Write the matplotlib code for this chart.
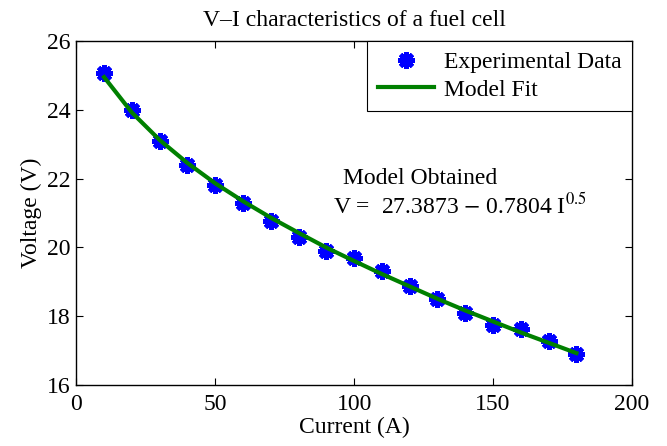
import matplotlib.pyplot as plt

plt.rcParams['font.family'] = ['Liberation Serif', 'DejaVu Serif']
plt.rcParams['mathtext.fontset'] = 'stix'

# readings
current = [10, 20, 30, 40, 50, 60, 70, 80, 90, 100, 110, 120, 130, 140, 150, 160, 170, 180]
voltage_meas = [25.08, 24.0, 23.1, 22.38, 21.82, 21.28, 20.75, 20.3, 19.9, 19.68, 19.32,
                18.88, 18.5, 18.08, 17.74, 17.62, 17.28, 16.9]
voltage_fit = [24.95, 23.92, 23.12, 22.45, 21.86, 21.34, 20.86, 20.42, 19.99, 19.6, 19.22,
               18.86, 18.5, 18.16, 17.84, 17.52, 17.22, 16.92]

fs = 17

fig = plt.figure(figsize=(6.67, 4.46), dpi=100)
ax = fig.add_axes([0.1144, 0.1374, 0.8331, 0.7706])

ax.plot(current, voltage_meas, linestyle='none', marker=(8, 2, 0), markersize=12,
        markeredgewidth=3.2, color='blue', label='Experimental Data', zorder=2)
ax.plot(current, voltage_fit, color=(0, 0.5, 0), linewidth=3, label='Model Fit', zorder=3)

ax.set_xlim(0, 200)
ax.set_ylim(16, 26)
ax.set_xticks([0, 50, 100, 150, 200])
ax.set_yticks([16, 18, 20, 22, 24, 26])
ax.tick_params(direction='in', top=True, right=True, labelsize=fs, length=5)
ax.tick_params(axis='x', pad=7)
ax.tick_params(axis='y', pad=4)
for s in ax.spines.values():
    s.set_linewidth(1.0)

ax.set_title('V\u2013I characteristics of a fuel cell', fontsize=fs, pad=11)
ax.set_xlabel('Current (A)', fontsize=fs, labelpad=1)
ax.set_ylabel('Voltage (V)', fontsize=fs, labelpad=4)

ax.text(96, 22.0, 'Model Obtained', fontsize=fs, va='center', ha='left')
ax.text(92.5, 21.2, r'V =  27.3873 $-$ 0.7804 I$^{0.5}$', fontsize=fs, va='center', ha='left')

leg = ax.legend(loc='upper right', borderaxespad=0, fontsize=fs, fancybox=False,
                edgecolor='black', framealpha=1, handlelength=2.4, borderpad=0.45,
                labelspacing=0.25, handletextpad=0.4)
leg.get_frame().set_linewidth(0.8)

fig.savefig('out.png', dpi=100)
